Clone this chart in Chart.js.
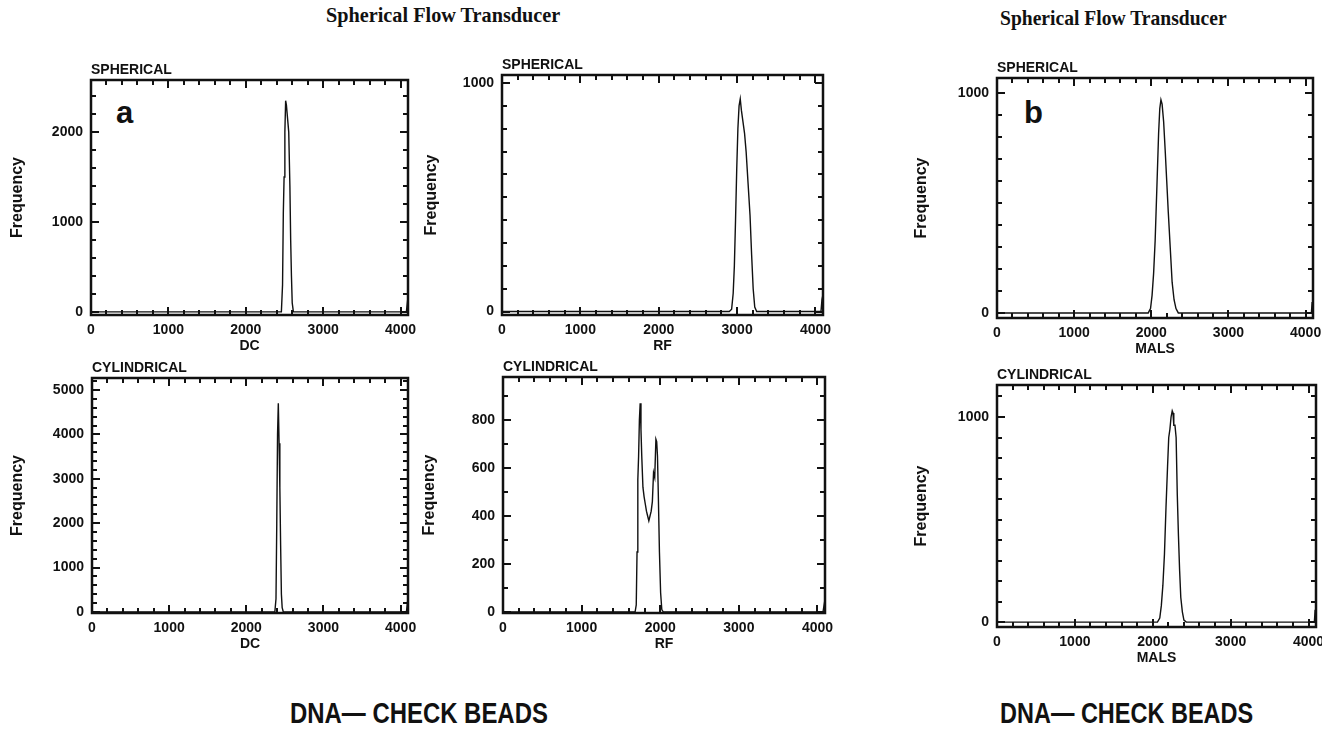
<!DOCTYPE html>
<html lang="en">
<head>
  <meta charset="UTF-8">
  <title>Spherical Flow Transducer - DNA Check Beads</title>
  <style>
    body { margin: 0; background: #fff; }
    #page { position: relative; width: 1322px; height: 732px; overflow: hidden; }
    #page canvas { position: absolute; }
    .head {
      position: absolute; white-space: nowrap; transform-origin: left top; color: #111;
      font-family: "Liberation Serif", "DejaVu Serif", serif; font-weight: bold;
      font-size: 22px; line-height: 22px;
    }
    .foot {
      position: absolute; white-space: nowrap; transform-origin: left top; color: #111;
      font-family: "Liberation Sans", Arial, sans-serif; font-weight: bold;
      font-size: 29px; line-height: 29px;
    }
    .tag {
      position: absolute; color: #111;
      font-family: "Liberation Sans", Arial, sans-serif; font-weight: bold;
      font-size: 31px; line-height: 31px;
    }
  </style>
</head>
<body>
  <div id="page">
    <div class="head" style="left:326px; top:4px; transform:scaleX(0.92)">Spherical Flow Transducer</div>
    <div class="head" style="left:1000px; top:7px; transform:scaleX(0.89)">Spherical Flow Transducer</div>
    <div class="tag" style="left:116px; top:97px">a</div>
    <div class="tag" style="left:1024px; top:97px">b</div>
    <div class="foot" style="left:290px; top:699px; transform:scaleX(0.825)">DNA— CHECK BEADS</div>
    <div class="foot" style="left:1000px; top:699px; transform:scaleX(0.81)">DNA— CHECK BEADS</div>
  </div>

  <script src="https://cdn.jsdelivr.net/npm/chart.js"></script>
  <script>
    // histogram outlines: channel (0-4096) vs frequency
    const xTicks = [0, 1000, 2000, 3000, 4000];

    // (a) spherical, DC
    const dcSphX = [0, 2460, 2475, 2485, 2495, 2505, 2515, 2525, 2540, 2555, 2570, 2580, 2590, 2600, 2615, 4075, 4085, 4096];
    const dcSphY = [0, 0, 300, 1100, 1500, 2000, 2350, 2300, 2150, 2000, 1400, 800, 400, 100, 0, 0, 80, 0];
    const dcSphTicks = [0, 1000, 2000];

    // (a) spherical, RF
    const rfSphX = [0, 2900, 2930, 2950, 2965, 2980, 2995, 3010, 3025, 3040, 3055, 3075, 3095, 3115, 3140, 3165, 3185, 3205, 3225, 3250, 4070, 4080, 4096];
    const rfSphY = [0, 0, 10, 80, 200, 400, 620, 800, 900, 930, 880, 830, 780, 700, 560, 420, 250, 100, 20, 0, 0, 40, 0];
    const rfSphTicks = [0, 1000];

    // (b) spherical, MALS
    const malsSphX = [0, 1960, 1990, 2010, 2030, 2050, 2075, 2095, 2110, 2125, 2140, 2160, 2180, 2200, 2220, 2245, 2270, 2295, 2320, 2350, 2380, 4075, 4085, 4096];
    const malsSphY = [0, 0, 20, 80, 180, 330, 600, 820, 930, 970, 950, 870, 740, 600, 460, 300, 140, 60, 20, 0, 0, 0, 50, 0];
    const malsSphTicks = [0, 1000];

    // (a) cylindrical, DC
    const dcCylX = [0, 2370, 2385, 2395, 2405, 2415, 2425, 2435, 2445, 2455, 2465, 2480, 4075, 4085, 4096];
    const dcCylY = [0, 0, 300, 2000, 4000, 4700, 3800, 2800, 1500, 400, 100, 0, 0, 150, 0];
    const dcCylTicks = [0, 1000, 2000, 3000, 4000, 5000];

    // (a) cylindrical, RF (double peak)
    const rfCylX = [0, 1680, 1695, 1705, 1715, 1725, 1735, 1745, 1755, 1765, 1780, 1795, 1810, 1825, 1840, 1855, 1870, 1885, 1900, 1915, 1930, 1945, 1955, 1965, 1975, 1990, 2005, 2020, 2040, 4070, 4085, 4096];
    const rfCylY = [0, 0, 30, 250, 550, 650, 800, 870, 760, 650, 520, 480, 450, 420, 400, 380, 400, 420, 460, 580, 560, 720, 710, 650, 500, 250, 80, 10, 0, 0, 30, 0];
    const rfCylTicks = [0, 200, 400, 600, 800];

    // (b) cylindrical, MALS
    const malsCylX = [0, 2060, 2090, 2110, 2130, 2150, 2170, 2190, 2205, 2220, 2235, 2250, 2260, 2270, 2285, 2300, 2315, 2330, 2345, 2360, 2380, 2400, 2430, 4075, 4085, 4096];
    const malsCylY = [0, 0, 20, 80, 180, 330, 560, 760, 900, 940, 1000, 1030, 1020, 960, 960, 900, 620, 420, 250, 120, 50, 10, 0, 0, 60, 0];
    const malsCylTicks = [0, 1000];

    const SANS = '"Liberation Sans", Arial, sans-serif';
    const INK = '#111';

    // plot box = [left, top, right, bottom] of the framed area
    const panels = [
      { xs: dcSphX, ys: dcSphY, yTicks: dcSphTicks, yMin: -35, yMax: 2580, yMinor: 200, name: 'SPHERICAL', xTitle: 'DC', box: [91, 80, 408, 315], yTitleX: 18 },
      { xs: rfSphX, ys: rfSphY, yTicks: rfSphTicks, yMin: -15, yMax: 1035, yMinor: 100, name: 'SPHERICAL', xTitle: 'RF', box: [502, 75, 823, 315], yTitleX: 432 },
      { xs: malsSphX, ys: malsSphY, yTicks: malsSphTicks, yMin: -23, yMax: 1069, yMinor: 100, name: 'SPHERICAL', xTitle: 'MALS', box: [997, 78, 1313, 318], yTitleX: 922 },
      { xs: dcCylX, ys: dcCylY, yTicks: dcCylTicks, yMin: -22, yMax: 5270, yMinor: 200, name: 'CYLINDRICAL', xTitle: 'DC', box: [92, 378, 408, 613], yTitleX: 18 },
      { xs: rfCylX, ys: rfCylY, yTicks: rfCylTicks, yMin: -4, yMax: 979, yMinor: 100, name: 'CYLINDRICAL', xTitle: 'RF', box: [503, 377, 825, 613], yTitleX: 430 },
      { xs: malsCylX, ys: malsCylY, yTicks: malsCylTicks, yMin: -24, yMax: 1156, yMinor: 100, name: 'CYLINDRICAL', xTitle: 'MALS', box: [997, 385, 1316, 627], yTitleX: 922 }
    ];

    const page = document.getElementById('page');

    function makePanel(p) {
      const left = p.yTitleX - 12;
      const top = p.box[1] - 25;
      const cv = document.createElement('canvas');
      cv.width = p.box[2] + 20 - left;
      cv.height = p.box[3] + 45 - top;
      cv.style.left = left + 'px';
      cv.style.top = top + 'px';
      page.appendChild(cv);

      // heavy frame with inward ticks on all four sides
      const frame = {
        id: 'frame',
        afterDraw(chart) {
          const { ctx, chartArea: a, scales: { x, y } } = chart;
          ctx.save();
          ctx.strokeStyle = INK;
          ctx.lineWidth = 2;
          ctx.beginPath();
          for (let v = 0; v <= 4000; v += 200) {
            const px = Math.round(x.getPixelForValue(v));
            const len = v % 1000 === 0 ? 8 : 5;
            ctx.moveTo(px, a.bottom); ctx.lineTo(px, a.bottom - len);
            ctx.moveTo(px, a.top); ctx.lineTo(px, a.top + len);
          }
          for (let v = 0; v <= p.yMax; v += p.yMinor) {
            const py = Math.round(y.getPixelForValue(v));
            const len = p.yTicks.includes(v) ? 8 : 5;
            ctx.moveTo(a.left, py); ctx.lineTo(a.left + len, py);
            ctx.moveTo(a.right, py); ctx.lineTo(a.right - len, py);
          }
          ctx.stroke();
          ctx.lineWidth = 2.5;
          ctx.strokeRect(a.left, a.top, a.right - a.left, a.bottom - a.top);
          ctx.restore();
        }
      };

      new Chart(cv, {
        type: 'line',
        data: {
          datasets: [{
            data: p.xs.map((v, i) => ({ x: v, y: p.ys[i] })),
            borderColor: INK,
            borderWidth: 1.4,
            pointRadius: 0,
            tension: 0,
            fill: false
          }]
        },
        options: {
          responsive: false,
          animation: false,
          events: [],
          layout: { padding: { left: 0, top: 0, right: 20, bottom: 0 } },
          plugins: {
            legend: { display: false },
            tooltip: { enabled: false },
            title: {
              display: true, text: p.name, align: 'start', fullSize: false, color: INK,
              font: { family: SANS, size: 14, weight: 'bold', lineHeight: 1 },
              padding: { top: 8, bottom: 3 }
            }
          },
          scales: {
            x: {
              type: 'linear', min: 0, max: 4096,
              grid: { display: false, drawTicks: false },
              border: { display: false },
              afterBuildTicks: s => { s.ticks = xTicks.map(v => ({ value: v })); },
              afterFit: s => { s.height = 45; s.paddingLeft = 0; s.paddingRight = 0; },
              ticks: {
                color: INK, padding: 7, maxRotation: 0, autoSkip: false,
                font: { family: SANS, size: 14, weight: 'bold' },
                callback: v => String(v)
              },
              title: {
                display: true, text: p.xTitle, color: INK,
                font: { family: SANS, size: 14, weight: 'bold', lineHeight: 1.2 },
                padding: { top: 0, bottom: 5.6 }
              }
            },
            y: {
              type: 'linear', min: p.yMin, max: p.yMax,
              grid: { display: false, drawTicks: false },
              border: { display: false },
              afterBuildTicks: s => { s.ticks = p.yTicks.map(v => ({ value: v })); },
              afterFit: s => { s.width = p.box[0] - left; s.paddingTop = 0; s.paddingBottom = 0; },
              ticks: {
                color: INK, padding: 8,
                font: { family: SANS, size: 14, weight: 'bold' },
                callback: v => String(v)
              },
              title: {
                display: true, text: 'Frequency', color: INK,
                font: { family: SANS, size: 16, weight: 'bold', lineHeight: 1.2 },
                padding: { top: 2.4, bottom: 0 }
              }
            }
          }
        },
        plugins: [frame]
      });
    }

    panels.forEach(makePanel);
  </script>
</body>
</html>
